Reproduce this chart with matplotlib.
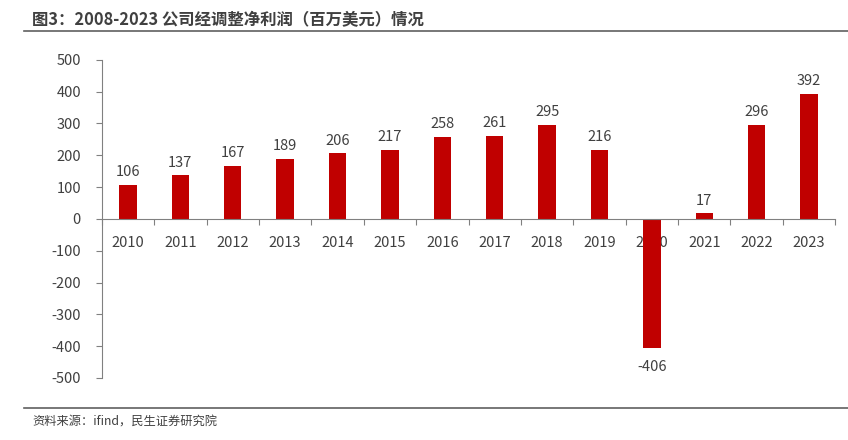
import numpy as np
import matplotlib
matplotlib.use('Agg')
import matplotlib.pyplot as plt

plt.rcParams['font.family'] = ['Noto Sans CJK SC', 'DejaVu Sans']

years = ['2010', '2011', '2012', '2013', '2014', '2015', '2016',
         '2017', '2018', '2019', '2020', '2021', '2022', '2023']
profit = [106, 137, 167, 189, 206, 217, 258, 261, 295, 216, -406, 17, 296, 392]
yticks = [-500, -400, -300, -200, -100, 0, 100, 200, 300, 400, 500]

bar_color = '#C00000'
txt_color = '#404040'
axis_color = '#808080'

fig = plt.figure(figsize=(8.48, 4.40), dpi=100)
ax = fig.add_axes([0.120, 0.141, 0.865, 0.723])

x = np.arange(len(years))
ax.bar(x, profit, width=0.33, color=bar_color, zorder=2)

for xi, v in zip(x, profit):
    if v >= 0:
        ax.text(xi, v + 18, str(v), ha='center', va='bottom', fontsize=10.5, color=txt_color)
    else:
        ax.text(xi, v - 36, str(v), ha='center', va='top', fontsize=10.5, color=txt_color)

ax.set_xlim(-0.5, len(years) - 0.5)
ax.set_ylim(-500, 500)
ax.set_yticks(yticks)
ax.set_yticklabels([str(t) for t in yticks], fontsize=10.5, color=txt_color)

# x axis sits on zero, ticks at category boundaries
ax.spines['bottom'].set_position(('data', 0))
for s in ['top', 'right']:
    ax.spines[s].set_visible(False)
ax.spines['left'].set_color(axis_color)
ax.spines['bottom'].set_color(axis_color)
ax.set_xticks(np.arange(-0.5, len(years), 1.0))
ax.set_xticklabels([])
ax.set_xticks(x, minor=True)
ax.set_xticklabels(years, minor=True, fontsize=10.5, color=txt_color)
ax.tick_params(axis='x', which='major', direction='out', length=4, color=axis_color)
ax.tick_params(axis='x', which='minor', length=0, pad=12)
ax.tick_params(axis='y', direction='out', length=4, color=axis_color, pad=11)

# title and source
fig.text(0.038, 0.955, '图3：2008-2023 公司经调整净利润（百万美元）情况', fontsize=11.8,
         fontweight='bold', color='#404040', ha='left', va='center')
fig.add_artist(plt.Line2D([0.028, 1.0], [0.930, 0.930], color='#606060', lw=1.2))
fig.add_artist(plt.Line2D([0.028, 1.0], [0.073, 0.073], color='#606060', lw=1.2))
fig.text(0.038, 0.040, '资料来源：ifind，民生证券研究院', fontsize=8.8, color='#404040',
         ha='left', va='center')

fig.savefig('out.png', dpi=100)
